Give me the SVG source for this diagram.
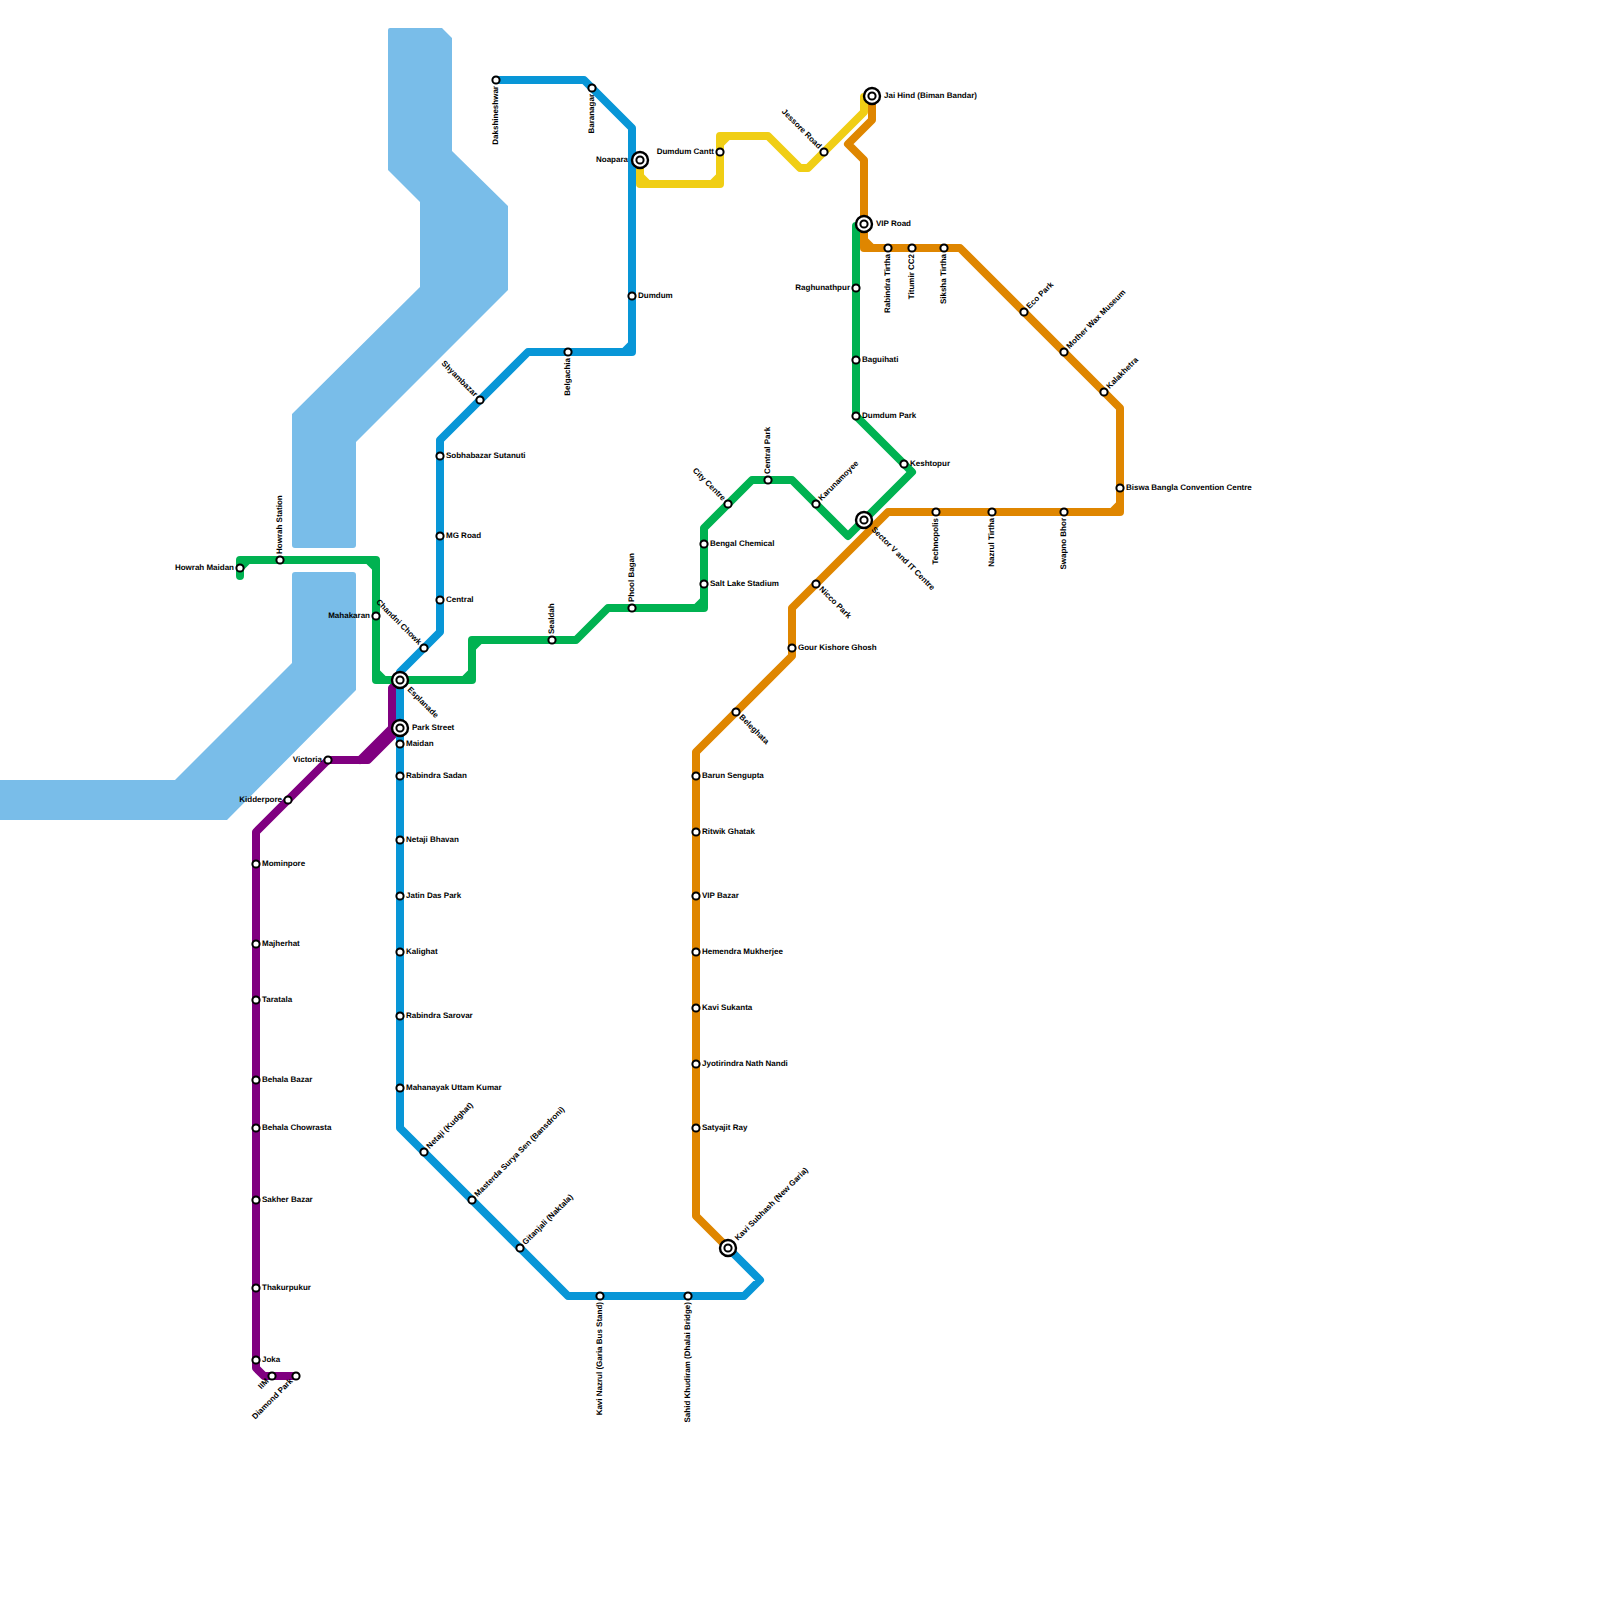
<svg xmlns="http://www.w3.org/2000/svg" width="1600" height="1600" viewBox="0 0 1600 1600">
<style>
.w{fill:#79bde9;stroke:none}
.c path{fill:none;stroke-width:8;stroke-linejoin:round;stroke-linecap:round}
.s{fill:#fff;stroke:#000;stroke-width:2;r:3.6px}
.o{fill:#fff;stroke:#000;stroke-width:2.4;r:8px}
text{font-family:"Liberation Sans",Arial,sans-serif;font-size:8px;font-weight:700;fill:#000;text-rendering:geometricPrecision}
.e{text-anchor:end}
</style>
<rect width="1600" height="1600" fill="#fff"/>
<g id="water">
<path class="w" d="M390,28H442L452,38V151L508,206V290L356,442V545Q356,548 353,548H295Q292,548 292,545V414L420,287V202L388,170V30Q388,28 390,28Z"/>
<path class="w" d="M295,572H353Q356,572 356,575V690L227,820H0V780H175L292,663V575Q292,572 295,572Z"/>
</g>
<g id="connectors" class="c">
<path id="line-purple" stroke="#800080" d="M296,1376H264L256,1368V832L328,760H368L400,728M400,680L392,688V728L360,760"/>
<path id="line-blue" stroke="#0896d7" d="M496,80H584L632,128V344L624,352H528L440,440V632L400,672V1128L568,1296H744L760,1280L728,1248M632,344V352H624"/>
<path id="line-green" stroke="#00b251" d="M240,576V568L248,560H368L376,568V672L384,680H464L472,672V648L480,640H576L608,608H696L704,600V528L752,480H792L848,536L912,472L856,416V226M240,568V560H248M368,560H376V568M376,672V680H384M464,680H472V672M472,648V640H480M696,608H704V600"/>
<path id="line-orange" stroke="#df8600" d="M872,96V120L848,144L864,160V240L872,248H960L1120,408V504L1112,512H888L792,608V656L696,752V1216L728,1248M864,240V248H872M1120,504V512H1112"/>
<path id="line-yellow" stroke="#f0ce15" d="M640,160V176L648,184H712L720,176V144L728,136H768L800,168H808L864,112V97M640,176V184H648M712,184H720V176M720,144V136H728"/>
</g>
<g id="howrah-maidan"><circle class="s" cx="240" cy="568"/><text class="e" x="234" y="570">Howrah Maidan</text></g>
<g id="howrah-station"><circle class="s" cx="280" cy="560"/><text transform="translate(282,554) rotate(-90)">Howrah Station</text></g>
<g id="mahakaran"><circle class="s" cx="376" cy="616"/><text class="e" x="370" y="618">Mahakaran</text></g>
<g id="sealdah"><circle class="s" cx="552" cy="640"/><text transform="translate(554,634) rotate(-90)">Sealdah</text></g>
<g id="phool-bagan"><circle class="s" cx="632" cy="608"/><text transform="translate(634,602) rotate(-90)">Phool Bagan</text></g>
<g id="salt-lake"><circle class="s" cx="704" cy="584"/><text x="710" y="586">Salt Lake Stadium</text></g>
<g id="bengal-chemical"><circle class="s" cx="704" cy="544"/><text x="710" y="546">Bengal Chemical</text></g>
<g id="city-centre"><circle class="s" cx="728" cy="504"/><text class="e" transform="translate(722.4,501.2) rotate(45)">City Centre</text></g>
<g id="central-park"><circle class="s" cx="768" cy="480"/><text transform="translate(770,474) rotate(-90)">Central Park</text></g>
<g id="karunamoyee"><circle class="s" cx="816" cy="504"/><text transform="translate(821.6,501.2) rotate(-45)">Karunamoyee</text></g>
<g id="keshtopur"><circle class="s" cx="904" cy="464"/><text x="910" y="466">Keshtopur</text></g>
<g id="dumdum-park"><circle class="s" cx="856" cy="416"/><text x="862" y="418">Dumdum Park</text></g>
<g id="baguihati"><circle class="s" cx="856" cy="360"/><text x="862" y="362">Baguihati</text></g>
<g id="raghunathpur"><circle class="s" cx="856" cy="288"/><text class="e" x="850" y="290">Raghunathpur</text></g>
<g id="sector-v"><circle class="o" cx="864" cy="520"/><circle class="s" cx="864" cy="520"/><text transform="translate(871,530) rotate(45)">Sector V and IT Centre</text></g>
<g id="vip-road"><circle class="o" cx="864" cy="224"/><circle class="s" cx="864" cy="224"/><text x="876" y="226">VIP Road</text></g>
<g id="jai-hind"><circle class="o" cx="872" cy="96"/><circle class="s" cx="872" cy="96"/><text x="884" y="98">Jai Hind (Biman Bandar)</text></g>
<g id="rabindra-tirtha"><circle class="s" cx="888" cy="248"/><text class="e" transform="translate(890,254) rotate(-90)">Rabindra Tirtha</text></g>
<g id="titumir"><circle class="s" cx="912" cy="248"/><text class="e" transform="translate(914,254) rotate(-90)">Titumir CC2</text></g>
<g id="siksha-tirtha"><circle class="s" cx="944" cy="248"/><text class="e" transform="translate(946,254) rotate(-90)">Siksha Tirtha</text></g>
<g id="eco-park"><circle class="s" cx="1024" cy="312"/><text transform="translate(1029.6,309.2) rotate(-45)">Eco Park</text></g>
<g id="mother-wax"><circle class="s" cx="1064" cy="352"/><text transform="translate(1069.6,349.2) rotate(-45)">Mother Wax Museum</text></g>
<g id="kalakhetra"><circle class="s" cx="1104" cy="392"/><text transform="translate(1109.6,389.2) rotate(-45)">Kalakhetra</text></g>
<g id="biswa-bangla"><circle class="s" cx="1120" cy="488"/><text x="1126" y="490">Biswa Bangla Convention Centre</text></g>
<g id="swapno-bhor"><circle class="s" cx="1064" cy="512"/><text class="e" transform="translate(1066,518) rotate(-90)">Swapno Bhor</text></g>
<g id="nazrul-tirtha"><circle class="s" cx="992" cy="512"/><text class="e" transform="translate(994,518) rotate(-90)">Nazrul Tirtha</text></g>
<g id="technopolis"><circle class="s" cx="936" cy="512"/><text class="e" transform="translate(938,518) rotate(-90)">Technopolis</text></g>
<g id="nicco-park"><circle class="s" cx="816" cy="584"/><text transform="translate(818.8,589.6) rotate(45)">Nicco Park</text></g>
<g id="gour-kishore"><circle class="s" cx="792" cy="648"/><text x="798" y="650">Gour Kishore Ghosh</text></g>
<g id="beleghata"><circle class="s" cx="736" cy="712"/><text transform="translate(738.8,717.6) rotate(45)">Beleghata</text></g>
<g id="barun-sengupta"><circle class="s" cx="696" cy="776"/><text x="702" y="778">Barun Sengupta</text></g>
<g id="ritwik-ghatak"><circle class="s" cx="696" cy="832"/><text x="702" y="834">Ritwik Ghatak</text></g>
<g id="vip-bazar"><circle class="s" cx="696" cy="896"/><text x="702" y="898">VIP Bazar</text></g>
<g id="hemendra"><circle class="s" cx="696" cy="952"/><text x="702" y="954">Hemendra Mukherjee</text></g>
<g id="kavi-sukanta"><circle class="s" cx="696" cy="1008"/><text x="702" y="1010">Kavi Sukanta</text></g>
<g id="jyotirindra"><circle class="s" cx="696" cy="1064"/><text x="702" y="1066">Jyotirindra Nath Nandi</text></g>
<g id="satyajit-ray"><circle class="s" cx="696" cy="1128"/><text x="702" y="1130">Satyajit Ray</text></g>
<g id="kavi-subhash"><circle class="o" cx="728" cy="1248"/><circle class="s" cx="728" cy="1248"/><text transform="translate(738,1241) rotate(-45)">Kavi Subhash (New Garia)</text></g>
<g id="dakshineshwar"><circle class="s" cx="496" cy="80"/><text class="e" transform="translate(498,86) rotate(-90)">Dakshineshwar</text></g>
<g id="baranagar"><circle class="s" cx="592" cy="88"/><text class="e" transform="translate(594,94) rotate(-90)">Baranagar</text></g>
<g id="noapara"><circle class="o" cx="640" cy="160"/><circle class="s" cx="640" cy="160"/><text class="e" x="628" y="162">Noapara</text></g>
<g id="dumdum-cantt"><circle class="s" cx="720" cy="152"/><text class="e" x="714" y="154">Dumdum Cantt</text></g>
<g id="jessore-road"><circle class="s" cx="824" cy="152"/><text class="e" transform="translate(818.4,149.2) rotate(45)">Jessore Road</text></g>
<g id="dumdum"><circle class="s" cx="632" cy="296"/><text x="638" y="298">Dumdum</text></g>
<g id="belgachia"><circle class="s" cx="568" cy="352"/><text class="e" transform="translate(570,358) rotate(-90)">Belgachia</text></g>
<g id="shyambazar"><circle class="s" cx="480" cy="400"/><text class="e" transform="translate(474.4,397.2) rotate(45)">Shyambazar</text></g>
<g id="sobhabazar"><circle class="s" cx="440" cy="456"/><text x="446" y="458">Sobhabazar Sutanuti</text></g>
<g id="mg-road"><circle class="s" cx="440" cy="536"/><text x="446" y="538">MG Road</text></g>
<g id="central"><circle class="s" cx="440" cy="600"/><text x="446" y="602">Central</text></g>
<g id="chandni-chowk"><circle class="s" cx="424" cy="648"/><text class="e" transform="translate(418.4,645.2) rotate(45)">Chandni Chowk</text></g>
<g id="esplanade"><circle class="o" cx="400" cy="680"/><circle class="s" cx="400" cy="680"/><text transform="translate(407,690) rotate(45)">Esplanade</text></g>
<g id="park-street"><circle class="o" cx="400" cy="728"/><circle class="s" cx="400" cy="728"/><text x="412" y="730">Park Street</text></g>
<g id="maidan"><circle class="s" cx="400" cy="744"/><text x="406" y="746">Maidan</text></g>
<g id="rabindra-sadan"><circle class="s" cx="400" cy="776"/><text x="406" y="778">Rabindra Sadan</text></g>
<g id="netaji-bhavan"><circle class="s" cx="400" cy="840"/><text x="406" y="842">Netaji Bhavan</text></g>
<g id="jatin-das"><circle class="s" cx="400" cy="896"/><text x="406" y="898">Jatin Das Park</text></g>
<g id="kalighat"><circle class="s" cx="400" cy="952"/><text x="406" y="954">Kalighat</text></g>
<g id="rabindra-sarovar"><circle class="s" cx="400" cy="1016"/><text x="406" y="1018">Rabindra Sarovar</text></g>
<g id="mahanayak"><circle class="s" cx="400" cy="1088"/><text x="406" y="1090">Mahanayak Uttam Kumar</text></g>
<g id="netaji"><circle class="s" cx="424" cy="1152"/><text transform="translate(429.6,1149.2) rotate(-45)">Netaji (Kudghat)</text></g>
<g id="masterda"><circle class="s" cx="472" cy="1200"/><text transform="translate(477.6,1197.2) rotate(-45)">Masterda Surya Sen (Bansdroni)</text></g>
<g id="gitanjali"><circle class="s" cx="520" cy="1248"/><text transform="translate(525.6,1245.2) rotate(-45)">Gitanjali (Naktala)</text></g>
<g id="kavi-nazrul"><circle class="s" cx="600" cy="1296"/><text class="e" transform="translate(602,1302) rotate(-90)">Kavi Nazrul (Garia Bus Stand)</text></g>
<g id="sahid-khudiram"><circle class="s" cx="688" cy="1296"/><text class="e" transform="translate(690,1302) rotate(-90)">Sahid Khudiram (Dhalai Bridge)</text></g>
<g id="victoria"><circle class="s" cx="328" cy="760"/><text class="e" x="322" y="762">Victoria</text></g>
<g id="kidderpore"><circle class="s" cx="288" cy="800"/><text class="e" x="282" y="802">Kidderpore</text></g>
<g id="mominpore"><circle class="s" cx="256" cy="864"/><text x="262" y="866">Mominpore</text></g>
<g id="majherhat"><circle class="s" cx="256" cy="944"/><text x="262" y="946">Majherhat</text></g>
<g id="taratala"><circle class="s" cx="256" cy="1000"/><text x="262" y="1002">Taratala</text></g>
<g id="behala-bazar"><circle class="s" cx="256" cy="1080"/><text x="262" y="1082">Behala Bazar</text></g>
<g id="behala-chowrasta"><circle class="s" cx="256" cy="1128"/><text x="262" y="1130">Behala Chowrasta</text></g>
<g id="sakher-bazar"><circle class="s" cx="256" cy="1200"/><text x="262" y="1202">Sakher Bazar</text></g>
<g id="thakurpukur"><circle class="s" cx="256" cy="1288"/><text x="262" y="1290">Thakurpukur</text></g>
<g id="joka"><circle class="s" cx="256" cy="1360"/><text x="262" y="1362">Joka</text></g>
<g id="iim"><circle class="s" cx="272" cy="1376"/><text class="e" transform="translate(269.2,1381.6) rotate(-45)">IIM</text></g>
<g id="diamond-park"><circle class="s" cx="296" cy="1376"/><text class="e" transform="translate(293.2,1381.6) rotate(-45)">Diamond Park</text></g>
</svg>
